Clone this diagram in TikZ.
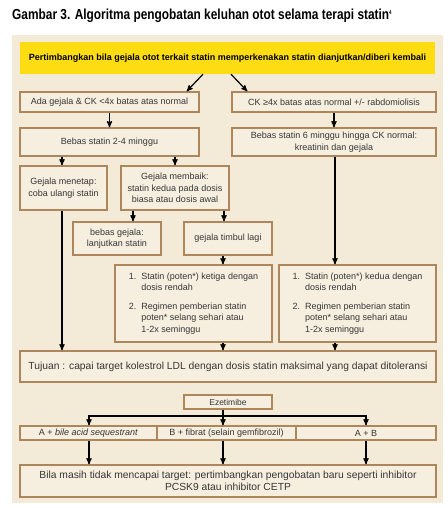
\documentclass[tikz,border=0pt]{standalone}
\usepackage{fontspec}
\setmainfont{Liberation Sans}
\newfontfamily\titlefont[FakeStretch=0.82]{Liberation Sans}
\usetikzlibrary{arrows,positioning,calc}
\definecolor{panel}{HTML}{F3EBD8}
\definecolor{boxfill}{HTML}{F6EFDF}
\definecolor{boxline}{HTML}{AE865B}
\definecolor{gold}{HTML}{FEDC12}
\definecolor{ink}{HTML}{363636}

\begin{document}
\begin{tikzpicture}[x=1pt,y=-1pt,>=stealth',
    box/.style={draw=boxline,fill=boxfill,line width=1.4pt,inner sep=1pt,align=center,text=ink,font=\fontsize{9}{11.5}\selectfont},
    bigbox/.style={box,font=\fontsize{10.3}{12.5}\selectfont},
    arr/.style={->,line width=1.2pt},
    plain/.style={line width=1.2pt}]

        \useasboundingbox (0,0) rectangle (447,508);
        \fill[panel] (12,35) rectangle (443,503);

        \node[anchor=west,inner sep=0pt,font=\titlefont\bfseries\fontsize{14.5}{16}\selectfont](title) at (12,16) {Gambar 3. Algoritma pengobatan keluhan otot selama terapi statin\textsuperscript{\fontsize{5.5}{6}\selectfont 4}};

        \node[fill=gold,minimum width=415,minimum height=32,font=\bfseries\fontsize{9}{11}\selectfont](start) at (227.5,58) {Pertimbangkan bila gejala otot terkait statin memperkenakan statin dianjutkan/diberi kembali};

        \node[box,minimum width=179,minimum height=20](ada) at (109.5,102) {Ada gejala \& CK <4x batas atas normal};
        \node[box,minimum width=204,minimum height=20](ck) at (334,102) {CK ≥4x batas atas normal +/- rabdomiolisis};

        \node[box,minimum width=179,minimum height=28](bebasA) at (109.5,142) {Bebas statin 2-4 minggu};
        \node[box,minimum width=204,minimum height=28](bebasB) at (334,142) {Bebas statin 6 minggu hingga CK normal:\\kreatinin dan gejala};

        \node[box,minimum width=87,minimum height=44](menetap) at (63.5,188) {Gejala menetap:\\coba ulangi statin};
        \node[box,minimum width=108,minimum height=44](membaik) at (175,188) {Gejala membaik:\\statin kedua pada dosis\\biasa atau dosis awal};

        \node[box,minimum width=88,minimum height=33](bebasgej) at (117,238.5) {bebas gejala:\\lanjutkan statin};
        \node[box,minimum width=88,minimum height=33](timbul) at (228,238.5) {gejala timbul lagi};

        \node[box,minimum width=157,minimum height=77,align=left](statinA) at (193.5,303.5) {%
            \begin{tabular}{@{}l@{\hspace{5pt}}l@{}}
            1. & Statin (poten*) ketiga dengan\\
               & dosis rendah\\[7pt]
            2. & Regimen pemberian statin\\
               & poten* selang sehari atau\\
               & 1-2x seminggu
            \end{tabular}};
        \node[box,minimum width=157,minimum height=77,align=left](statinB) at (357.5,303.5) {%
            \begin{tabular}{@{}l@{\hspace{5pt}}l@{}}
            1. & Statin (poten*) kedua dengan\\
               & dosis rendah\\[7pt]
            2. & Regimen pemberian statin\\
               & poten* selang sehari atau\\
               & 1-2x seminggu
            \end{tabular}};

        \node[bigbox,minimum width=416,minimum height=31](tujuan) at (228,366.5) {Tujuan : capai target kolestrol LDL dengan dosis statin maksimal yang dapat ditoleransi};

        \node[box,minimum width=88,minimum height=14,font=\fontsize{8.5}{10}\selectfont](ezet) at (228,402) {Ezetimibe};

        \node[box,minimum width=137,minimum height=14](rowA) at (88.5,433) {A + \textit{bile acid sequestrant}};
        \node[box,minimum width=139,minimum height=14](rowB) at (226.5,433) {B + fibrat (selain gemfibrozil)};
        \node[box,minimum width=140,minimum height=14](rowC) at (366,433) {A + B};

        \node[bigbox,minimum width=416,minimum height=32](final) at (228,481) {Bila masih tidak mencapai target: pertimbangkan pengobatan baru seperti inhibitor\\PCSK9 atau inhibitor CETP};

        % columns of the connectors
        \coordinate (cL) at (62,0);
        \coordinate (cM) at (223,0);
        \coordinate (cR) at (335,0);
        \coordinate (kA) at (89,0);
        \coordinate (kC) at (366,0);
        \coordinate (split) at (223,416);

        \draw[arr] ([xshift=-24.5pt]start.south) -- ([xshift=-13pt]ada.north east);
        \draw[arr] ([xshift=3.5pt]start.south) -- ([xshift=16pt]ck.north west);

        \draw[arr] (ada) -- (bebasA);
        \draw[arr] (ck) -- (bebasB);

        \draw[arr] (bebasA.south -| cL) -- (menetap.north -| cL);
        \draw[arr] (bebasA.south -| membaik) -- (membaik);
        \draw[arr] ([xshift=-42pt]membaik.south) -- ([xshift=-42pt]membaik.south |- bebasgej.north);
        \draw[arr] ([xshift=-4pt]timbul.north |- membaik.south) -- ([xshift=-4pt]timbul.north);

        \draw[arr] (timbul.south -| cM) -- (statinA.north -| cM);
        \draw[arr] (bebasB.south -| cR) -- (statinB.north -| cR);

        \draw[arr] (menetap.south -| cL) -- (tujuan.north -| cL);
        \draw[arr] (statinA.south -| cM) -- (tujuan.north -| cM);
        \draw[arr] (statinB.south -| cR) -- (tujuan.north -| cR);

        \draw[plain] (ezet.south -| split) -- (split);
        \draw[arr] (split) -| (rowA.north -| kA);
        \draw[arr] (split) -| (rowC.north -| kC);
        \draw[arr] (split) -- (rowB.north -| split);

        \draw[arr] (rowA.south -| kA) -- (final.north -| kA);
        \draw[arr] (rowB.south -| split) -- (final.north -| split);
        \draw[arr] (rowC.south -| kC) -- (final.north -| kC);

\end{tikzpicture}
\end{document}
